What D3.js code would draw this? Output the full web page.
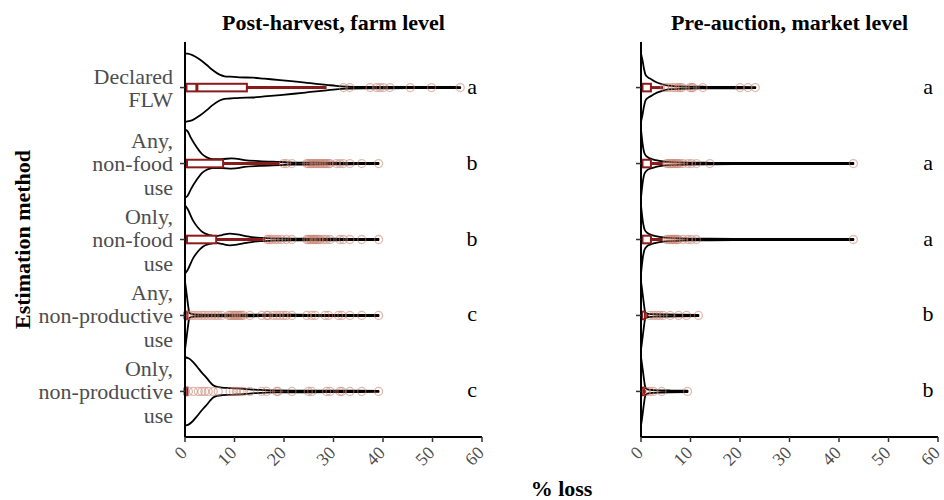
<!DOCTYPE html>
<html>
<head>
<meta charset="utf-8">
<script src="https://cdn.jsdelivr.net/npm/d3@7"></script>
<style>
  body { margin: 0; background: #fff; }
  svg { display: block; }
  text { font-family: "Liberation Serif", "Times New Roman", serif; }
</style>
</head>
<body>
<svg id="chart" width="944" height="500"></svg>
<script>
// Estimation methods (top to bottom); "\n" marks a line break in the label
const methods = [
  "Declared\nFLW",
  "Any,\nnon-food\nuse",
  "Only,\nnon-food\nuse",
  "Any,\nnon-productive\nuse",
  "Only,\nnon-productive\nuse"
];
const panelTitles = ["Post-harvest, farm level", "Pre-auction, market level"];
const xTicks = [0, 10, 20, 30, 40, 50, 60];

// Compact letter display of group differences
const farmLetters = ["a", "b", "b", "c", "c"];
const marketLetters = ["a", "a", "a", "b", "b"];

// Box summaries: [lower whisker, Q1, median, Q3, upper whisker] (% loss)
const farmBox = [
  [0, 0.3, 2.4, 12.5, 28.6],
  [0, 0.1, 0.3, 7.7, 19.2],
  [0, 0.1, 0.3, 6.3, 16.2],
  [0, 0, 0, 0.5, 0.5],
  [0, 0, 0, 0.5, 0.6]
];
const marketBox = [
  [0, 0.1, 0.2, 2.0, 4.5],
  [0, 0.1, 0.2, 2.0, 4.5],
  [0, 0.1, 0.2, 2.0, 4.4],
  [0, 0, 0.1, 0.8, 1.5],
  [0, 0, 0.1, 0.6, 1.0]
];

// Outlying observations (% loss)
const farmOutliers = [
  [32, 33.3, 37.4, 38.7, 39.4, 40.1, 41.4, 45.5, 49.8, 55.6],
  [19.9, 20.5, 21.6, 24.6, 24.9, 25.3, 25.6, 26, 26.3, 26.6, 27, 27.3, 27.6, 28, 28.3, 28.6, 29, 29.3, 30.6, 31.3, 32, 33.3, 35.7, 39.1],
  [16.6, 17, 17.5, 18.2, 18.8, 19.5, 20.5, 21.6, 24.6, 24.9, 25.3, 25.6, 26, 26.3, 26.6, 27, 27.3, 28, 28.6, 29.3, 31.3, 32, 33.3, 35.7, 39.1],
  [0.7, 1.35, 2, 2.7, 3.4, 4, 4.7, 5.4, 6.1, 6.7, 7.4, 8.8, 9.1, 9.4, 9.8, 10.1, 10.4, 10.8, 11.1, 11.4, 11.8, 13.1, 15.5, 16.5, 16.8, 17.8, 18.5, 19.2, 19.9, 20.5, 21.6, 24.6, 25.6, 26.3, 28.3, 29, 31, 31.7, 33.3, 35.7, 39.1],
  [0.7, 1.7, 2.7, 3.4, 4, 4.7, 5.7, 6.7, 9.1, 9.8, 10.4, 11.1, 11.8, 13.1, 15.5, 16.5, 18.5, 18.8, 21.6, 24.9, 25.6, 28.6, 29.3, 31.3, 31.7, 33.3, 35.7, 39.1]
];
const marketOutliers = [
  [4.8, 5.5, 6.3, 6.9, 7.5, 7.9, 8.3, 9.9, 10.3, 10.5, 12.5, 20, 21.6, 23.1],
  [5.2, 5.5, 5.9, 6.2, 6.5, 6.9, 7.2, 7.5, 7.9, 8.5, 9.5, 10.2, 11.2, 13.9, 42.9],
  [5.2, 5.6, 6, 6.3, 6.6, 7, 7.3, 7.6, 8.5, 9.5, 10.2, 11.2, 42.9],
  [1.8, 2.5, 3.2, 3.8, 4.5, 5.9, 7.6, 9.2, 11.6],
  [1.1, 1.8, 2.5, 4.2, 9.4]
];

// Violin outlines: [% loss, relative density width]
const farmDensity = [
  [[0, 1], [0.5, 0.99], [1.5, 0.95], [3, 0.82], [4.4, 0.66], [5.5, 0.52], [7.1, 0.37], [8, 0.33], [9.1, 0.32], [11, 0.3], [13.7, 0.29], [16, 0.26], [19.2, 0.22], [22, 0.18], [24.6, 0.14], [26.5, 0.11], [28.6, 0.08], [30.5, 0.05], [32.7, 0.03], [36, 0.022], [40, 0.02], [45, 0.018], [50, 0.018], [55.6, 0.016]],
  [[0, 1], [0.5, 0.95], [1.2, 0.75], [2.4, 0.47], [3.4, 0.28], [4.4, 0.18], [5.5, 0.13], [7.4, 0.13], [9.4, 0.15], [11, 0.13], [12, 0.1], [15, 0.07], [19.2, 0.045], [22, 0.028], [26, 0.03], [30, 0.024], [35, 0.02], [39.1, 0.016]],
  [[0, 1], [0.5, 0.9], [1.6, 0.56], [2.6, 0.35], [3.6, 0.21], [5, 0.13], [6.3, 0.1], [7.5, 0.13], [9, 0.17], [10.5, 0.15], [12.3, 0.1], [14, 0.06], [15.6, 0.045], [18, 0.03], [22, 0.025], [26, 0.028], [30, 0.022], [35, 0.02], [39.1, 0.016]],
  [[0, 1], [0.2, 0.78], [0.4, 0.55], [0.6, 0.32], [0.8, 0.12], [1, 0.06], [2, 0.03], [5, 0.025], [10, 0.025], [15, 0.022], [20, 0.022], [25, 0.02], [30, 0.02], [39.1, 0.016]],
  [[0, 1], [0.7, 0.97], [1.5, 0.88], [2.4, 0.73], [3.4, 0.55], [4.4, 0.39], [5.2, 0.25], [5.7, 0.18], [6.5, 0.13], [7.5, 0.11], [9.1, 0.1], [10.5, 0.09], [12.4, 0.07], [14, 0.05], [15.8, 0.04], [18, 0.03], [22, 0.025], [26, 0.025], [30, 0.022], [35, 0.02], [39.1, 0.016]]
];
const marketDensity = [
  [[0, 1], [0.3, 0.8], [0.6, 0.55], [0.9, 0.38], [1.4, 0.3], [2, 0.25], [2.8, 0.18], [3.8, 0.12], [5, 0.07], [6.5, 0.045], [8, 0.035], [10, 0.028], [12.5, 0.024], [16, 0.02], [20, 0.02], [23.1, 0.016]],
  [[0, 1], [0.3, 0.6], [0.7, 0.3], [1.2, 0.2], [1.8, 0.15], [3, 0.1], [4.5, 0.06], [6, 0.045], [8, 0.035], [10, 0.028], [14, 0.022], [20, 0.018], [30, 0.016], [42.9, 0.016]],
  [[0, 1], [0.3, 0.6], [0.7, 0.3], [1.2, 0.2], [1.8, 0.15], [3, 0.1], [4.5, 0.06], [6, 0.045], [8, 0.035], [10, 0.028], [14, 0.022], [20, 0.018], [30, 0.016], [42.9, 0.016]],
  [[0, 1], [0.2, 0.78], [0.4, 0.55], [0.6, 0.32], [0.8, 0.12], [1, 0.07], [1.5, 0.045], [3, 0.035], [5, 0.03], [8, 0.025], [11.6, 0.02]],
  [[0, 1], [0.2, 0.8], [0.4, 0.58], [0.6, 0.36], [0.8, 0.16], [1, 0.09], [1.5, 0.055], [2.5, 0.04], [4, 0.032], [6, 0.026], [9.4, 0.02]]
];

const panels = [
  { title: panelTitles[0], box: farmBox, outliers: farmOutliers, density: farmDensity, letters: farmLetters, x0: 185, x1: 482, labels: true },
  { title: panelTitles[1], box: marketBox, outliers: marketOutliers, density: marketDensity, letters: marketLetters, x0: 641, x1: 938, labels: false }
];

const svg = d3.select("#chart");
const plotTop = 42, plotBottom = 437;
const boxRed = "#8b1a1a";
const grey = "#4d4d4d";

const y = d3.scalePoint().domain(methods).range([plotTop, plotBottom]).padding(0.6);
const halfWidth = y.step() * 0.45;
const boxHalf = y.step() * 0.05;

panels.forEach(p => {
  const x = d3.scaleLinear().domain([0, 60]).range([p.x0, p.x1]);
  const g = svg.append("g");

  // violins
  methods.forEach((m, i) => {
    const yc = y(m);
    const area = d3.area()
      .x(d => x(d[0]))
      .y0(d => yc - d[1] * halfWidth)
      .y1(d => yc + d[1] * halfWidth)
      .curve(d3.curveMonotoneX);
    g.append("path")
      .attr("d", area(p.density[i]))
      .attr("fill", "none")
      .attr("stroke", "#000")
      .attr("stroke-width", 1.8)
      .attr("stroke-linejoin", "round");
  });

  // boxplots with outliers
  methods.forEach((m, i) => {
    const yc = y(m);
    const [lo, q1, med, q3, hi] = p.box[i];
    g.append("line")
      .attr("x1", x(q3)).attr("x2", x(hi)).attr("y1", yc).attr("y2", yc)
      .attr("stroke", boxRed).attr("stroke-width", 3);
    g.append("line")
      .attr("x1", x(lo)).attr("x2", x(q1)).attr("y1", yc).attr("y2", yc)
      .attr("stroke", boxRed).attr("stroke-width", 3);
    g.append("rect")
      .attr("x", x(q1)).attr("y", yc - boxHalf)
      .attr("width", Math.max(x(q3) - x(q1), 0.5)).attr("height", boxHalf * 2)
      .attr("fill", "#fff").attr("stroke", boxRed).attr("stroke-width", 2);
    g.append("line")
      .attr("x1", x(med)).attr("x2", x(med)).attr("y1", yc - boxHalf).attr("y2", yc + boxHalf)
      .attr("stroke", boxRed).attr("stroke-width", 3);

    g.selectAll(null).data(p.outliers[i]).enter().append("circle")
      .attr("cx", d => x(d)).attr("cy", yc).attr("r", 4)
      .attr("fill", "none")
      .attr("stroke", "#c97f6b").attr("stroke-opacity", 0.55).attr("stroke-width", 1.3);
  });

  // group letters
  methods.forEach((m, i) => {
    g.append("text")
      .attr("x", x(58)).attr("y", y(m) + 6)
      .attr("text-anchor", "middle")
      .attr("font-size", 22).attr("fill", "#000")
      .text(p.letters[i]);
  });

  // x axis
  g.append("line")
    .attr("x1", x(0)).attr("x2", x(60)).attr("y1", plotBottom).attr("y2", plotBottom)
    .attr("stroke", "#000").attr("stroke-width", 2);
  xTicks.forEach(t => {
    g.append("line")
      .attr("x1", x(t)).attr("x2", x(t)).attr("y1", plotBottom).attr("y2", plotBottom + 5)
      .attr("stroke", "#333").attr("stroke-width", 1.5);
    g.append("text")
      .attr("transform", `translate(${x(t) - 4},${plotBottom + 10}) rotate(-45)`)
      .attr("text-anchor", "end").attr("dy", "0.55em")
      .attr("font-size", 18).attr("fill", grey)
      .text(t);
  });

  // y axis
  g.append("line")
    .attr("x1", x(0)).attr("x2", x(0)).attr("y1", plotTop).attr("y2", plotBottom)
    .attr("stroke", "#000").attr("stroke-width", 2);
  methods.forEach(m => {
    g.append("line")
      .attr("x1", x(0) - 5).attr("x2", x(0)).attr("y1", y(m)).attr("y2", y(m))
      .attr("stroke", "#333").attr("stroke-width", 1.5);
    if (p.labels) {
      const lines = m.split("\n");
      const t = g.append("text")
        .attr("text-anchor", "end").attr("font-size", 22).attr("fill", grey);
      lines.forEach((ln, k) => {
        t.append("tspan")
          .attr("x", x(0) - 12)
          .attr("y", y(m) + (k - (lines.length - 1) / 2) * 23.5)
          .attr("dy", "0.35em")
          .text(ln);
      });
    }
  });

  // panel title
  g.append("text")
    .attr("x", (p.x0 + p.x1) / 2).attr("y", 30)
    .attr("text-anchor", "middle")
    .attr("font-size", 22).attr("font-weight", "bold")
    .text(p.title);
});

// shared axis titles
svg.append("text")
  .attr("x", (panels[0].x0 + panels[1].x1) / 2).attr("y", 496)
  .attr("text-anchor", "middle").attr("font-size", 22).attr("font-weight", "bold")
  .text("% loss");
svg.append("text")
  .attr("transform", `translate(30,${(plotTop + plotBottom) / 2}) rotate(-90)`)
  .attr("text-anchor", "middle").attr("font-size", 22).attr("font-weight", "bold")
  .text("Estimation method");
</script>
</body>
</html>
